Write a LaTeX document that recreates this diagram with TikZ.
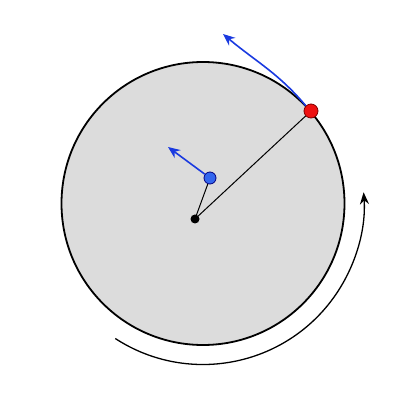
\documentclass[tikz,border=0pt]{standalone}
\usetikzlibrary{arrows.meta}
\definecolor{disk}{HTML}{DCDCDC}
\definecolor{arrowblue}{HTML}{1A3AE0}
\definecolor{dotblue}{HTML}{3366EE}
\definecolor{dotred}{HTML}{EE1111}
\begin{document}
\begin{tikzpicture}[x=1pt,y=1pt,
  bluearrow/.style={draw=arrowblue,line width=1.6pt,-{Stealth[length=12pt,width=10pt]}},
  dotstyle/.style={circle,inner sep=0pt,line width=0.8pt},
  spoke/.style={draw=black,line width=1pt}]
\useasboundingbox (0,0) rectangle (400,400);
\coordinate (C) at (203,196.5);
\node[circle,draw=black,fill=disk,line width=1.8pt,minimum size=283pt,inner sep=0pt] (disc) at (C) {};
\node[dotstyle,fill=black,minimum size=9pt] (O) at (195,181) {};
\node[dotstyle,fill=dotblue,draw=blue!50!black,minimum size=12pt] (B) at (210,222) {};
\node[dotstyle,fill=dotred,draw=red!50!black,minimum size=14pt] (R) at (311,289) {};
\coordinate (Btip) at (168,253);
\coordinate (Rtip) at (223,366);
\draw[spoke] (O.center) -- (B);
\draw[spoke] (O.center) -- (R);
\draw[bluearrow] (B) -- (Btip);
\draw[bluearrow] (R.north west) to[out=130,in=-40] (Rtip);
\draw[line width=1.3pt,-{Stealth[length=12pt,width=9pt]}] ([shift={(237:161)}]C) arc[start angle=237,end angle=364,radius=161];
\end{tikzpicture}
\end{document}
